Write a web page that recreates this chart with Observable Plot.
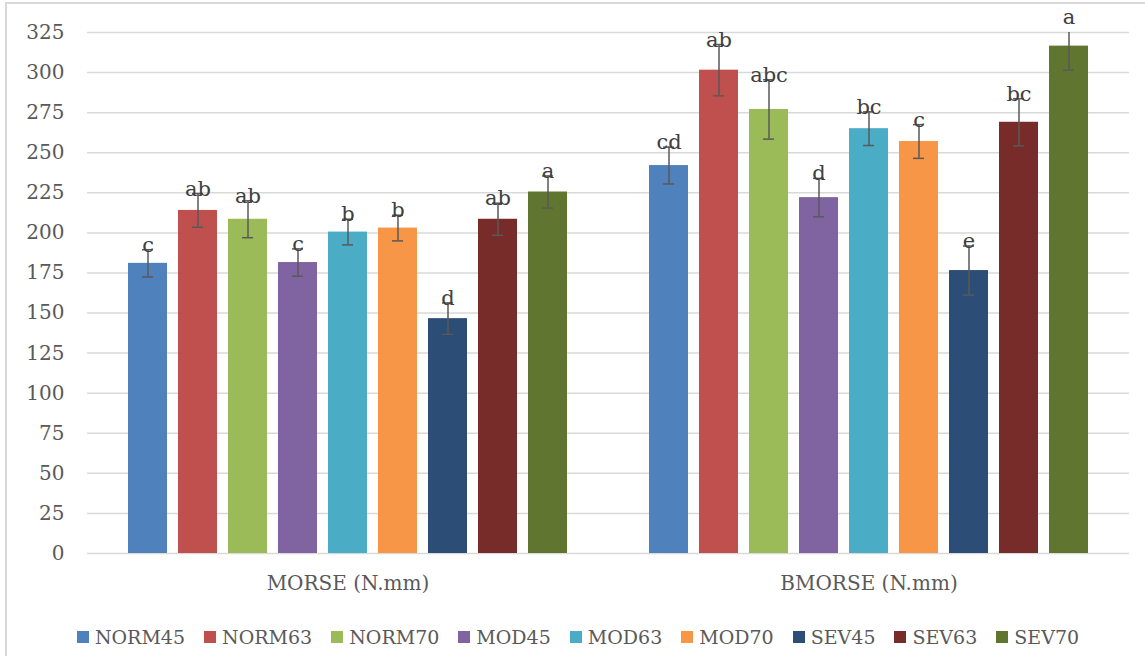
<!DOCTYPE html>
<html><head><meta charset="utf-8">
<script src="https://cdn.jsdelivr.net/npm/d3@7"></script>
<script src="https://cdn.jsdelivr.net/npm/@observablehq/plot@0.6"></script>
<style>
html,body{margin:0;padding:0;background:#fff;}
#wrap{position:relative;width:1145px;height:656px;overflow:hidden;font-family:"DejaVu Serif",serif;}
#frame{position:absolute;left:5px;top:2px;width:1200px;height:700px;border:2px solid #d9d9d9;box-sizing:border-box;pointer-events:none;}
#chart{position:absolute;left:0;top:0;}
#legend{position:absolute;left:0;top:620px;width:1145px;}
#legend > div{justify-content:center;font-family:"DejaVu Serif",serif !important;font-size:19px !important;color:#595959 !important;padding-left:30px;box-sizing:border-box;width:1145px;margin:0 !important;}
#legend span{margin-right:19px !important;}
#legend span svg{margin-right:6px !important;}
</style></head><body>
<div id="wrap"><div id="frame"></div><div id="chart"></div><div id="legend"></div></div>
<script>
const categories = ["MORSE (N.mm)", "BMORSE (N.mm)"];
const series = ["NORM45","NORM63","NORM70","MOD45","MOD63","MOD70","SEV45","SEV63","SEV70"];
const colors = ["#4F81BD","#C0504D","#9BBB59","#8064A2","#4BACC6","#F79646","#2C4D75","#772C2A","#5F7530"];
const morseValues = [181, 214, 208.5, 181.5, 200.5, 203, 146.5, 208.5, 225.5];
const morseErrors = [8.5, 10.5, 11.5, 8.5, 8, 8, 9.8, 10, 10];
const morseLetters = ["c","ab","ab","c","b","b","d","ab","a"];
const bmorseValues = [242, 301.5, 277, 222, 265, 257, 176.5, 269, 316.5];
const bmorseErrors = [11.5, 16, 18.5, 12, 10.5, 10.5, 15.3, 14.7, 15];
const bmorseLetters = ["cd","ab","abc","d","bc","c","e","bc","a"];
const yTicks = [0,25,50,75,100,125,150,175,200,225,250,275,300,325];

const data = [];
series.forEach((s,i)=>{
  data.push({cat:categories[0], series:s, value:morseValues[i], err:morseErrors[i], letter:morseLetters[i]});
});
series.forEach((s,i)=>{
  data.push({cat:categories[1], series:s, value:bmorseValues[i], err:bmorseErrors[i], letter:bmorseLetters[i]});
});

const chart = Plot.plot({
  width:1145, height:610,
  marginTop:32, marginBottom:57, marginLeft:86, marginRight:16,
  style:{fontFamily:'"DejaVu Serif", serif', fontSize:"20px", color:"#595959", background:"transparent", overflow:"visible"},
  fx:{domain:categories, padding:0, label:null},
  x:{domain:series, paddingInner:0.22, paddingOuter:0.8, axis:null},
  y:{domain:[0,325], label:null},
  color:{domain:series, range:colors},
  marks:[
    Plot.gridY(yTicks, {stroke:"#d9d9d9", strokeOpacity:1, strokeWidth:1.5}),
    Plot.axisY(yTicks, {tickSize:0, tickPadding:23, label:null, fontSize:20}),
    Plot.axisFx({anchor:"bottom", tickSize:0, tickPadding:22, label:null, fontSize:20}),
    Plot.barY(data, {fx:"cat", x:"series", y:"value", fill:"series"}),
    Plot.ruleX(data, {fx:"cat", x:"series", y1:d=>d.value-d.err, y2:d=>d.value+d.err, stroke:"#595959", strokeWidth:1.5, clip:true}),
    Plot.tickY(data, {fx:"cat", x:"series", y:d=>d.value+d.err, stroke:"#595959", strokeWidth:1.5, insetLeft:14, insetRight:14, clip:true}),
    Plot.tickY(data, {fx:"cat", x:"series", y:d=>d.value-d.err, stroke:"#595959", strokeWidth:1.5, insetLeft:14, insetRight:14}),
    Plot.text(data, {fx:"cat", x:"series", y:d=>d.value+d.err, text:"letter", lineAnchor:"bottom", dy:2, fill:"#404040", fontSize:21})
  ]
});
document.getElementById("chart").appendChild(chart);

const legend = Plot.legend({
  color:{type:"ordinal", domain:series, range:colors},
  legend:"swatches", swatchSize:12, className:"lg"
});
document.getElementById("legend").appendChild(legend);
</script></body></html>
